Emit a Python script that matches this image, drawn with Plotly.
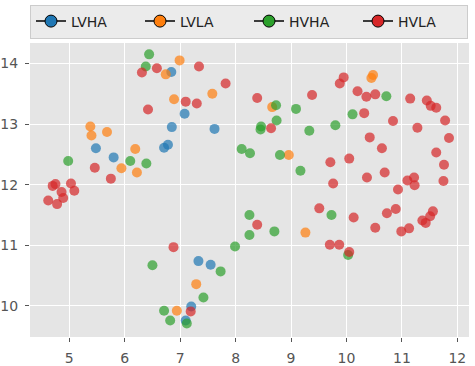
import plotly.graph_objects as go

# values
lvha_x = [6.84, 6.85, 7.08, 7.62, 6.78, 6.71, 5.48, 5.80, 7.33, 7.55, 7.20, 7.10]
lvha_y = [13.86, 12.95, 13.17, 12.92, 12.66, 12.61, 12.60, 12.45, 10.74, 10.68, 9.99, 9.76]

lvla_x = [6.99, 6.74, 6.89, 7.58, 5.38, 5.40, 5.68, 6.19, 5.94, 6.22, 8.66, 8.96,
          10.48, 10.45, 9.26, 7.29, 6.94]
lvla_y = [14.05, 13.82, 13.41, 13.50, 12.96, 12.81, 12.87, 12.59, 12.27, 12.20, 13.28, 12.49,
          13.81, 13.76, 11.21, 10.36, 9.92]

hvha_x = [6.44, 6.38, 4.98, 6.10, 6.39, 8.73, 9.09, 8.74, 8.46, 8.45, 8.11, 8.26, 8.80,
          9.17, 10.72, 10.11, 9.80, 9.33, 9.73, 10.03, 8.25, 8.25, 8.70, 7.99, 6.50,
          7.73, 7.42, 6.71, 6.82, 7.12]
hvha_y = [14.15, 13.95, 12.39, 12.39, 12.35, 13.31, 13.25, 13.06, 12.96, 12.91, 12.59, 12.52, 12.49,
          12.23, 13.46, 13.16, 12.98, 12.89, 11.50, 10.84, 11.50, 11.17, 11.23, 10.98, 10.67,
          10.57, 10.14, 9.92, 9.76, 9.71]

hvla_x = [6.31, 6.58, 7.34, 7.82, 6.42, 7.10, 7.30, 5.46, 5.75, 4.75, 4.70, 5.03, 4.86,
          5.09, 4.62, 4.89, 4.78, 6.88, 8.39, 8.64, 7.19, 9.95, 9.88, 9.38, 10.20, 10.36,
          10.52, 11.15, 11.45, 11.52, 11.62, 10.32, 10.84, 11.78, 11.28, 10.42, 11.85, 10.64,
          9.71, 10.05, 11.62, 11.76, 10.37, 10.69, 9.76, 11.10, 11.23, 11.75, 10.93, 9.51,
          10.13, 10.73, 10.89, 10.52, 10.99, 11.13, 11.37, 11.43, 11.51, 11.56, 9.70, 9.87,
          10.05, 8.39, 11.22]
hvla_y = [13.85, 13.92, 13.95, 13.67, 13.24, 13.37, 13.34, 12.28, 12.10, 12.01, 11.98, 12.02, 11.88,
          11.90, 11.74, 11.78, 11.68, 10.97, 13.43, 12.93, 9.91, 13.77, 13.67, 13.48, 13.54, 13.45,
          13.49, 13.42, 13.39, 13.30, 13.27, 13.18, 13.05, 13.06, 12.94, 12.78, 12.77, 12.60,
          12.37, 12.43, 12.53, 12.33, 12.12, 12.20, 12.02, 12.07, 11.99, 12.06, 11.92, 11.61,
          11.46, 11.53, 11.60, 11.29, 11.23, 11.28, 11.41, 11.37, 11.48, 11.56, 11.01, 11.01,
          10.89, 11.34, 12.12]

groups = [
    ('LVHA', lvha_x, lvha_y, '#1f77b4'),
    ('LVLA', lvla_x, lvla_y, '#ff7f0e'),
    ('HVHA', hvha_x, hvha_y, '#2ca02c'),
    ('HVLA', hvla_x, hvla_y, '#d62728'),
]

fig = go.Figure()
for name, xs, ys, col in groups:
    fig.add_trace(go.Scatter(x=xs, y=ys, mode='markers', name=name, showlegend=False,
                             marker=dict(color=col, size=10, opacity=0.7, line=dict(width=0))))
# legend-only entries: line + outlined circle like the original
for name, xs, ys, col in groups:
    fig.add_trace(go.Scatter(x=[None], y=[None], mode='lines+markers', name=name,
                             line=dict(color='black', width=1.5),
                             marker=dict(color=col, size=12, line=dict(color='black', width=1))))

axis_style = dict(showgrid=True, gridcolor='white', gridwidth=1.2, zeroline=False,
                  ticks='outside', ticklen=4, tickcolor='#555555', tickwidth=1,
                  tickfont=dict(family='DejaVu Sans', size=14, color='#555555'),
                  ticklabelstandoff=4, showline=False, automargin=False)

fig.update_xaxes(range=[4.291, 12.211], tickvals=[5, 6, 7, 8, 9, 10, 11, 12], **axis_style)
fig.update_yaxes(range=[9.488, 14.337], tickvals=[10, 11, 12, 13, 14], **axis_style)

fig.update_layout(
    width=475, height=366,
    margin=dict(l=30, r=6, t=43, b=29, autoexpand=False),
    plot_bgcolor='#E5E5E5', paper_bgcolor='white',
    font=dict(family='DejaVu Sans', color='#333333'),
    legend=dict(orientation='h', xref='container', yref='container',
                x=30 / 475, xanchor='left', y=1 - 4.5 / 366, yanchor='top',
                bgcolor='#EBEBEB', bordercolor='#CCCCCC', borderwidth=1,
                font=dict(family='DejaVu Sans', size=14, color='#222222'),
                itemsizing='trace', entrywidth=64, entrywidthmode='pixels'),
)

# page body margin would shift the whole figure by 8px
fig.write_html("out.html", config={'displayModeBar': False},
               post_script="document.body.style.margin='0';")
